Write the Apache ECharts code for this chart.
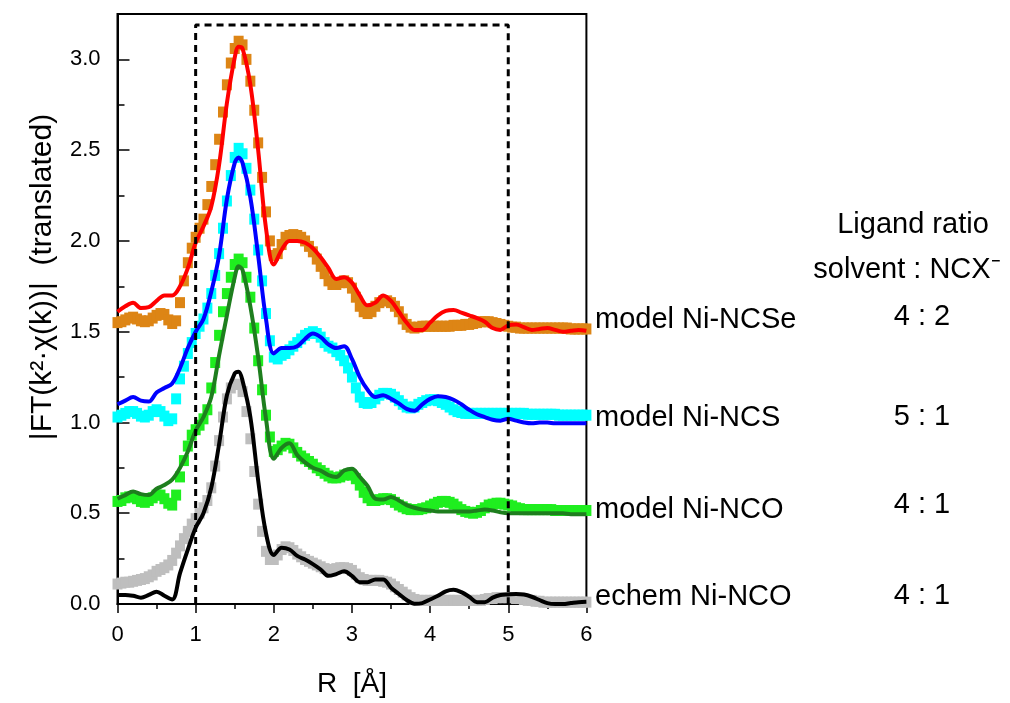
<!DOCTYPE html>
<html><head><meta charset="utf-8">
<script src="https://cdn.jsdelivr.net/npm/echarts@6/dist/echarts.min.js"></script>
<style>html,body{margin:0;padding:0;background:#fff}#c{width:1010px;height:703px}</style>
</head><body><div id="c"></div>
<script>
// ---- x grids (R in Å) ----
const rData = [0,0.05,0.1,0.15,0.2,0.25,0.3,0.35,0.4,0.45,0.5,0.55,0.6,0.65,0.7,0.75,0.8,0.85,0.9,0.95,
1,1.05,1.1,1.15,1.2,1.25,1.3,1.35,1.4,1.45,1.5,1.55,1.6,1.65,1.7,1.75,1.8,1.85,1.9,1.95,
2,2.05,2.1,2.15,2.2,2.25,2.3,2.35,2.4,2.45,2.5,2.55,2.6,2.65,2.7,2.75,2.8,2.85,2.9,2.95,
3,3.05,3.1,3.15,3.2,3.25,3.3,3.35,3.4,3.45,3.5,3.55,3.6,3.65,3.7,3.75,3.8,3.85,3.9,3.95,
4,4.05,4.1,4.15,4.2,4.25,4.3,4.35,4.4,4.45,4.5,4.55,4.6,4.65,4.7,4.75,4.8,4.85,4.9,4.95,
5,5.05,5.1,5.15,5.2,5.25,5.3,5.35,5.4,5.45,5.5,5.55,5.6,5.65,5.7,5.75,5.8,5.85,5.9,5.95,6];
const rFit = [0,0.1,0.2,0.3,0.4,0.5,0.6,0.7,0.8,0.9,1,1.1,1.2,1.3,1.4,1.5,1.55,
1.6,1.7,1.8,1.9,2,2.1,2.2,2.3,2.4,2.5,2.6,2.7,2.8,2.9,3,3.1,3.2,3.3,3.4,3.5,3.6,3.7,3.8,3.9,4,
4.1,4.2,4.3,4.4,4.5,4.6,4.7,4.8,4.9,5,5.1,5.2,5.3,5.4,5.5,5.6,5.7,5.8,5.9,6];

// ---- measured data (squares) ----
const ncseData = [1.55,1.555,1.565,1.575,1.58,1.57,1.56,1.555,1.56,1.575,1.59,1.6,1.595,1.565,1.545,1.56,1.66,1.78,1.88,1.96,
2.02,2.07,2.12,2.2,2.3,2.42,2.56,2.71,2.86,2.98,3.06,3.1,3.08,3,2.88,2.72,2.54,2.35,2.16,2.0,
1.92,1.93,1.98,2.02,2.03,2.035,2.03,2.02,2,1.97,1.94,1.9,1.86,1.82,1.78,1.76,1.76,1.77,1.78,1.77,
1.74,1.69,1.64,1.61,1.6,1.61,1.64,1.66,1.67,1.67,1.66,1.64,1.61,1.57,1.54,1.525,1.52,1.525,1.53,1.53,
1.53,1.53,1.53,1.53,1.53,1.53,1.535,1.535,1.535,1.54,1.54,1.545,1.55,1.555,1.555,1.555,1.55,1.545,1.54,1.535,
1.53,1.525,1.525,1.52,1.52,1.52,1.52,1.52,1.52,1.52,1.52,1.52,1.52,1.52,1.52,1.52,1.515,1.515,1.515,1.515,1.515];
const ncsData = [1.03,1.04,1.05,1.06,1.06,1.05,1.035,1.03,1.04,1.06,1.07,1.06,1.035,1.01,1.02,1.13,1.24,1.31,1.38,1.44,
1.49,1.53,1.57,1.63,1.71,1.81,1.93,2.07,2.22,2.36,2.46,2.51,2.48,2.4,2.28,2.12,1.95,1.78,1.6,1.45,
1.36,1.35,1.37,1.38,1.4,1.42,1.44,1.46,1.48,1.49,1.5,1.49,1.47,1.44,1.42,1.41,1.39,1.37,1.34,1.3,
1.25,1.19,1.14,1.11,1.105,1.11,1.13,1.15,1.16,1.16,1.155,1.14,1.12,1.1,1.085,1.08,1.085,1.1,1.11,1.12,
1.125,1.125,1.12,1.11,1.1,1.085,1.07,1.06,1.055,1.05,1.05,1.05,1.05,1.05,1.05,1.05,1.05,1.05,1.05,1.05,
1.05,1.05,1.05,1.05,1.05,1.045,1.045,1.045,1.045,1.045,1.045,1.045,1.045,1.04,1.04,1.04,1.04,1.04,1.04,1.04,1.04];
const ncoData = [0.565,0.57,0.585,0.59,0.59,0.58,0.565,0.56,0.57,0.585,0.6,0.6,0.58,0.555,0.545,0.6,0.7,0.79,0.87,0.93,
0.96,0.985,1.02,1.07,1.19,1.33,1.48,1.61,1.71,1.8,1.87,1.9,1.88,1.8,1.69,1.52,1.34,1.18,1.04,0.92,
0.84,0.85,0.87,0.885,0.88,0.86,0.835,0.815,0.8,0.785,0.77,0.75,0.735,0.72,0.705,0.695,0.695,0.7,0.71,0.715,
0.71,0.69,0.655,0.615,0.585,0.57,0.57,0.575,0.58,0.58,0.575,0.56,0.545,0.535,0.525,0.52,0.52,0.52,0.525,0.53,
0.54,0.55,0.56,0.565,0.565,0.56,0.55,0.535,0.52,0.51,0.505,0.5,0.505,0.515,0.53,0.545,0.55,0.555,0.555,0.55,
0.545,0.54,0.53,0.525,0.52,0.52,0.52,0.52,0.52,0.52,0.52,0.52,0.515,0.515,0.515,0.515,0.515,0.515,0.515,0.515,0.515];
const echemData = [0.11,0.115,0.12,0.12,0.125,0.13,0.135,0.14,0.15,0.16,0.18,0.19,0.2,0.215,0.24,0.28,0.32,0.36,0.4,0.44,
0.47,0.5,0.53,0.57,0.64,0.76,0.9,1.03,1.13,1.19,1.21,1.21,1.17,1.06,0.91,0.73,0.55,0.4,0.29,0.245,
0.245,0.27,0.3,0.315,0.31,0.295,0.275,0.26,0.245,0.235,0.225,0.215,0.205,0.195,0.19,0.19,0.195,0.2,0.2,0.195,
0.185,0.165,0.145,0.135,0.13,0.13,0.13,0.13,0.125,0.12,0.11,0.095,0.08,0.065,0.05,0.035,0.025,0.02,0.02,0.02,
0.02,0.02,0.02,0.02,0.02,0.02,0.02,0.02,0.02,0.02,0.02,0.02,0.02,0.02,0.025,0.03,0.03,0.035,0.035,0.035,
0.035,0.035,0.03,0.03,0.025,0.02,0.02,0.015,0.015,0.01,0.01,0.01,0.01,0.01,0.01,0.01,0.01,0.01,0.01,0.01,0.01];

// ---- fits (lines) ----
const ncseFit = [1.61,1.64,1.66,1.63,1.635,1.67,1.70,1.70,1.75,1.85,1.99,2.08,2.19,2.42,2.76,3.01,3.07,
3.06,2.86,2.50,2.07,1.87,1.95,2.00,2.00,1.99,1.96,1.91,1.85,1.79,1.80,1.77,
1.70,1.645,1.66,1.70,1.67,1.61,1.55,1.51,1.51,1.55,
1.59,1.615,1.62,1.605,1.59,1.575,1.555,1.52,1.51,1.535,
1.54,1.525,1.51,1.515,1.52,1.51,1.50,1.505,1.51,1.505];
const ncsFit = [1.10,1.12,1.14,1.12,1.115,1.165,1.19,1.215,1.30,1.41,1.50,1.57,1.72,1.92,2.23,2.43,2.46,
2.43,2.24,1.92,1.57,1.38,1.41,1.41,1.42,1.46,1.49,1.47,1.43,1.41,1.42,1.35,
1.25,1.18,1.14,1.15,1.13,1.105,1.075,1.065,1.10,1.13,
1.145,1.14,1.125,1.10,1.07,1.045,1.03,1.015,1.01,1.02,
1.01,1.0,0.995,1.0,1.0,0.995,0.995,0.995,0.995,0.995];
const ncoFit = [0.58,0.60,0.62,0.605,0.60,0.635,0.655,0.685,0.75,0.84,0.955,1.03,1.14,1.37,1.59,1.80,1.86,
1.84,1.64,1.36,1.02,0.80,0.86,0.885,0.82,0.78,0.75,0.735,0.71,0.70,0.735,0.745,
0.70,0.65,0.58,0.575,0.59,0.57,0.545,0.53,0.52,0.515,
0.51,0.51,0.51,0.51,0.51,0.515,0.52,0.515,0.505,0.50,
0.50,0.50,0.50,0.50,0.50,0.50,0.50,0.495,0.495,0.495];
const echemFit = [0.05,0.05,0.045,0.035,0.05,0.068,0.045,0.025,0.17,0.30,0.42,0.50,0.64,0.88,1.15,1.27,1.28,
1.23,1.03,0.68,0.39,0.27,0.31,0.30,0.265,0.245,0.22,0.19,0.155,0.165,0.18,0.155,
0.12,0.12,0.135,0.135,0.09,0.055,0.022,0.002,0.005,0.025,
0.045,0.07,0.078,0.065,0.04,0.01,0.01,0.035,0.05,0.053,
0.055,0.052,0.04,0.022,0.005,0.0,0.0,0.005,0.01,0.012];

// ---- annotations ----
const seriesLabels = ['model Ni-NCSe','model Ni-NCS','model Ni-NCO','echem Ni-NCO'];
const ratioLabels = ['4 : 2','5 : 1','4 : 1','4 : 1'];
const boxR = [1, 5];
const boxTop = 3.19;

const FONT = '"Liberation Sans", Arial, Helvetica, sans-serif';
const pairs = (xs, ys) => xs.map((x, i) => [x, ys[i]]);

function dataSeries(name, ys, color) {
  return { name, type: 'scatter', data: pairs(rData, ys), symbol: 'rect', symbolSize: [10, 11],
    itemStyle: { color, opacity: 1 }, z: 2, silent: true, large: false };
}
function fitSeries(name, ys, color) {
  return { name, type: 'line', data: pairs(rFit, ys), smooth: 0.35, showSymbol: false, symbol: 'none',
    lineStyle: { color, width: 4 }, z: 3, silent: true };
}

const labelY = [320, 418, 510, 597];
const ratioY = [317, 417, 505, 596];
const txt = (text, x, y, size, align, extra) => Object.assign({
  type: 'text', x, y, silent: true,
  style: { text, fill: '#000', fontSize: size, fontFamily: FONT,
    textAlign: align, align: align, textVerticalAlign: 'middle', verticalAlign: 'middle' }
}, extra || {});

const chart = echarts.init(document.getElementById('c'), null, { renderer: 'canvas' });
chart.setOption({
  animation: false,
  backgroundColor: '#fff',
  grid: { left: 117.5, right: 423.6, top: 14, bottom: 99, show: true, borderColor: '#000', borderWidth: 2, backgroundColor: 'transparent' },
  xAxis: {
    type: 'value', min: 0, max: 6, interval: 1,
    axisLine: { show: true, onZero: false, lineStyle: { color: '#000', width: 2 } },
    axisTick: { show: true, inside: false, length: 9, lineStyle: { color: '#000', width: 1.5 } },
    minorTick: { show: true, splitNumber: 2, length: 5, lineStyle: { color: '#000', width: 1.5 } },
    splitLine: { show: false }, minorSplitLine: { show: false },
    axisLabel: { color: '#000', fontSize: 22, fontFamily: FONT, margin: 20 },
    name: 'R  [Å]', nameLocation: 'middle', nameGap: 66,
    nameTextStyle: { color: '#000', fontSize: 28, fontFamily: FONT }
  },
  yAxis: {
    type: 'value', min: 0, max: 3.25, interval: 0.5,
    axisLine: { show: true, onZero: false, lineStyle: { color: '#000', width: 2 } },
    axisTick: { show: true, inside: true, length: 12, lineStyle: { color: '#000', width: 1.5 } },
    minorTick: { show: true, splitNumber: 2, length: 7, lineStyle: { color: '#000', width: 1.5 } },
    splitLine: { show: false }, minorSplitLine: { show: false },
    axisLabel: { color: '#000', fontSize: 22, fontFamily: FONT, margin: 17, showMaxLabel: false,
      formatter: v => v.toFixed(1) }
  },
  series: [
    dataSeries('NCSe data', ncseData, '#DD8515'),
    dataSeries('NCS data', ncsData, '#00FFFF'),
    dataSeries('NCO data', ncoData, '#1FEE1F'),
    dataSeries('echem data', echemData, '#BEBEBE'),
    fitSeries('NCSe fit', ncseFit, '#FF0000'),
    fitSeries('NCS fit', ncsFit, '#0000FF'),
    fitSeries('NCO fit', ncoFit, '#1E7E1E'),
    fitSeries('echem fit', echemFit, '#000000'),
    { name: 'fit window', type: 'line', showSymbol: false, symbol: 'none', silent: true, z: 4,
      data: [[boxR[0], 0], [boxR[0], boxTop], [boxR[1], boxTop], [boxR[1], 0]],
      lineStyle: { color: '#000', width: 3, type: [7, 5] } }
  ],
  graphic: [
    ...seriesLabels.map((t, i) => txt(t, 595, labelY[i], 29, 'left')),
    ...ratioLabels.map((t, i) => txt(t, 922, ratioY[i], 29, 'center')),
    txt('Ligand ratio', 913, 225, 29, 'center'),
    txt('solvent : NCX\u207B', 907, 270, 29, 'center'),
    txt('|FT(k\u00B2\u00B7\u03C7(k))|  (translated)', 43, 277, 30, 'center', { rotation: Math.PI / 2 })
  ]
});
</script></body></html>
